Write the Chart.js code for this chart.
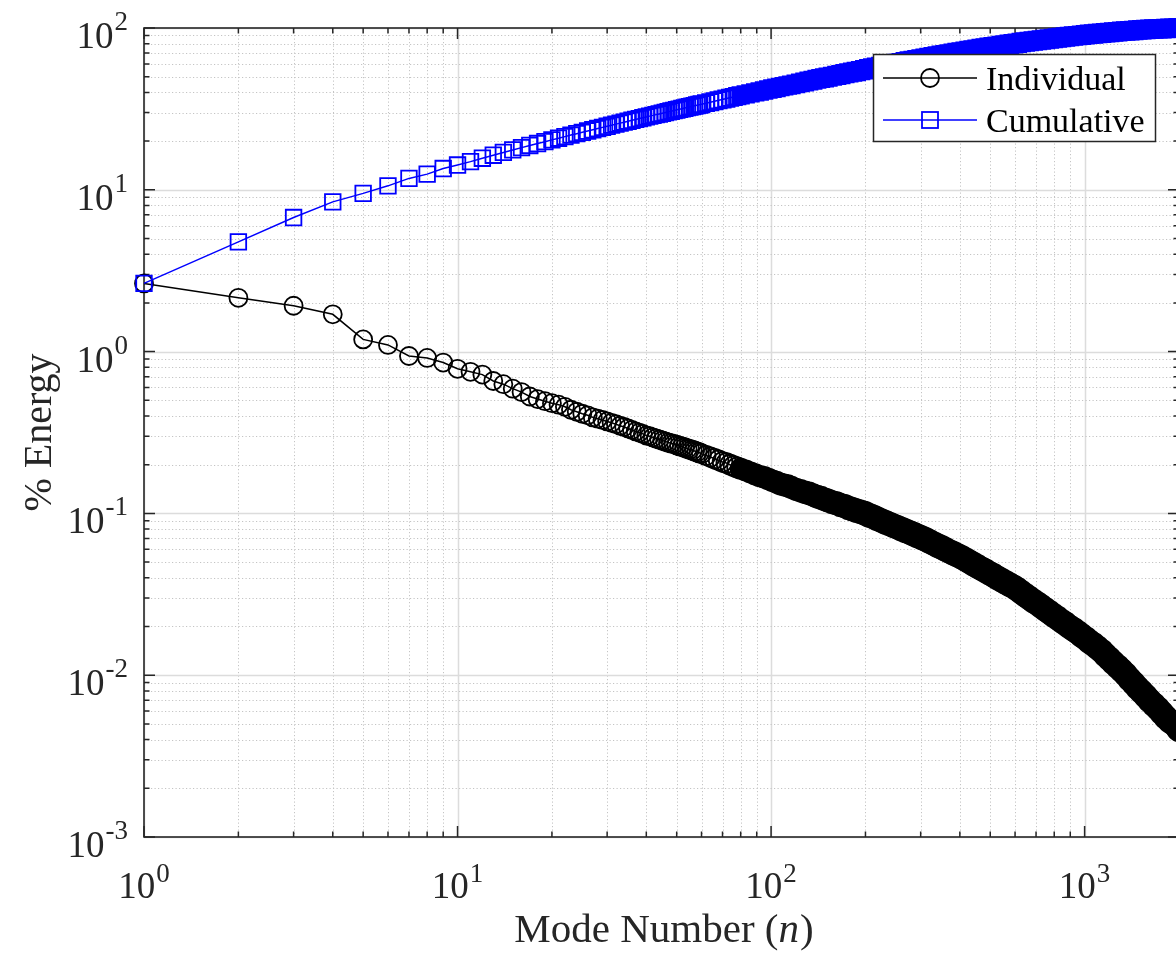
<!DOCTYPE html>
<html lang="en">
<head>
    <meta charset="UTF-8">
    <title>Mode energy</title>
    <script src="https://cdn.jsdelivr.net/npm/chart.js"></script>
    <style>
        html, body { margin: 0; padding: 0; background: #fff; overflow: hidden; }
    </style>
</head>
<body>
    <canvas id="graph" width="1190" height="955"></canvas>

    <script>
        // Mode numbers n (every mode up to 60, then the modes)
        const modeNumbers = [
            1, 2, 3, 4, 5, 6, 7, 8, 9, 10, 11, 12, 13, 14, 15, 16, 17, 18, 19, 20,
            21, 22, 23, 24, 25, 26, 27, 28, 29, 30, 31, 32, 33, 34, 35, 36, 37, 38, 39, 40,
            41, 42, 43, 44, 45, 46, 47, 48, 49, 50, 51, 52, 53, 54, 55, 56, 57, 58, 59, 60,
            62, 64, 66, 68, 70, 72, 74, 76, 78, 80,
            83, 86, 89, 92, 95, 98, 101, 104, 107, 110,
            113, 116, 120, 124, 128, 132, 136, 140, 144, 148,
            152, 157, 162, 167, 172, 177, 182, 187, 193, 199,
            205, 211, 217, 224, 231, 238, 245, 252, 260, 268,
            276, 284, 292, 301, 310, 319, 329, 339, 349, 359,
            370, 381, 392, 404, 416, 428, 441, 454, 468, 482,
            496, 511, 526, 542, 558, 575, 592, 610, 628, 647,
            666, 686, 707, 728, 750, 772, 795, 819, 844, 869,
            895, 922, 950, 978, 1007, 1037, 1068, 1100, 1133, 1167,
            1202, 1238, 1275, 1313, 1352, 1393, 1435, 1478, 1522, 1568,
            1615, 1663, 1713, 1764, 1817, 1871, 1927, 1985, 2000
        ];

        // % energy of each mode
        const individualEnergy = [
            2.64, 2.15, 1.92, 1.70, 1.19, 1.10, 0.939, 0.914, 0.856, 0.783,
            0.750, 0.721, 0.658, 0.629, 0.590, 0.562, 0.528, 0.509, 0.494, 0.480,
            0.470, 0.456, 0.437, 0.425, 0.413, 0.404, 0.392, 0.385, 0.378, 0.370,
            0.363, 0.356, 0.348, 0.342, 0.335, 0.328, 0.321, 0.316, 0.310, 0.303,
            0.300, 0.295, 0.290, 0.286, 0.282, 0.278, 0.274, 0.271, 0.268, 0.265,
            0.261, 0.258, 0.255, 0.251, 0.249, 0.246, 0.243, 0.240, 0.237, 0.234,
            0.228, 0.223, 0.218, 0.213, 0.208, 0.205, 0.200, 0.196, 0.192, 0.189,
            0.184, 0.179, 0.174, 0.170, 0.167, 0.163, 0.159, 0.156, 0.152, 0.150,
            0.148, 0.145, 0.141, 0.138, 0.135, 0.133, 0.130, 0.127, 0.125, 0.122,
            0.120, 0.117, 0.1155, 0.1126, 0.1107, 0.1079, 0.106, 0.1041, 0.1022, 0.1004,
            0.0975, 0.0956, 0.0930, 0.0906, 0.0883, 0.0862, 0.0841, 0.0823, 0.0801, 0.0782,
            0.0764, 0.0746, 0.0729, 0.0711, 0.0692, 0.0673, 0.0653, 0.0634, 0.0618, 0.0601,
            0.0583, 0.0568, 0.0553, 0.0537, 0.0520, 0.0504, 0.0487, 0.0472, 0.0456, 0.0442,
            0.0428, 0.0415, 0.0401, 0.0388, 0.0376, 0.0364, 0.0353, 0.0340, 0.0326, 0.0312,
            0.0300, 0.0288, 0.0277, 0.0266, 0.0255, 0.0245, 0.0235, 0.0226, 0.0216, 0.0208,
            0.0199, 0.0192, 0.0184, 0.0176, 0.0169, 0.0161, 0.0155, 0.0148, 0.0141, 0.0133,
            0.0126, 0.0119, 0.0113, 0.0107, 0.0101, 0.00945, 0.00889, 0.00834, 0.00788, 0.00741,
            0.00695, 0.00658, 0.00622, 0.00584, 0.00548, 0.0052, 0.0050, 0.0047, 0.0046
        ];

        // running total of % energy
        const cumulativeEnergy = [
            2.64, 4.77, 6.74, 8.42, 9.50, 10.58, 11.76, 12.50, 13.54, 14.23,
            14.93, 15.67, 16.36, 17.02, 17.64, 18.23, 18.79, 19.32, 19.84, 20.35,
            20.84, 21.32, 21.78, 22.23, 22.66, 23.09, 23.50, 23.91, 24.31, 24.70,
            25.08, 25.46, 25.83, 26.19, 26.54, 26.89, 27.23, 27.56, 27.89, 28.21,
            28.53, 28.84, 29.15, 29.45, 29.75, 30.04, 30.33, 30.62, 30.90, 31.18,
            31.46, 31.73, 32.00, 32.27, 32.53, 32.79, 33.05, 33.30, 33.55, 33.80,
            34.32, 34.80, 35.27, 35.73, 36.18, 36.62, 37.05, 37.47, 37.88, 38.28,
            38.87, 39.45, 40.01, 40.56, 41.09, 41.62, 42.18, 42.68, 43.17, 43.65,
            44.12, 44.58, 45.19, 45.78, 46.36, 47.03, 47.59, 48.14, 48.67, 49.20,
            49.71, 50.35, 50.96, 51.57, 52.16, 52.74, 53.32, 53.88, 54.54, 55.18,
            55.91, 56.53, 57.13, 57.82, 58.49, 59.14, 59.77, 60.40, 61.09, 61.77,
            62.43, 63.07, 63.71, 64.40, 65.07, 65.73, 66.44, 67.13, 67.80, 68.46,
            69.15, 69.83, 70.50, 71.20, 71.88, 72.54, 73.23, 73.90, 74.60, 75.27,
            75.93, 76.61, 77.27, 77.95, 78.60, 79.28, 79.94, 80.61, 81.25, 81.91,
            82.54, 83.17, 83.81, 84.43, 85.04, 85.64, 86.24, 86.83, 87.43, 88.01,
            88.58, 89.15, 89.72, 90.27, 90.81, 91.35, 91.88, 92.41, 92.93, 93.43,
            93.93, 94.41, 94.87, 95.33, 95.77, 96.21, 96.63, 97.04, 97.43, 97.81,
            98.18, 98.53, 98.75, 99.05, 99.35, 99.60, 99.80, 99.95, 100.0
        ];

        const seriesNames = ["Individual", "Cumulative"];

        // tick positions (grid) and the decade exponents that get a label
        const xTickValues = [1, 2, 3, 4, 5, 6, 7, 8, 9, 10, 20, 30, 40, 50, 60, 70, 80, 90,
            100, 200, 300, 400, 500, 600, 700, 800, 900, 1000, 2000];
        const yTickValues = [0.001, 0.002, 0.003, 0.004, 0.005, 0.006, 0.007, 0.008, 0.009,
            0.01, 0.02, 0.03, 0.04, 0.05, 0.06, 0.07, 0.08, 0.09,
            0.1, 0.2, 0.3, 0.4, 0.5, 0.6, 0.7, 0.8, 0.9,
            1, 2, 3, 4, 5, 6, 7, 8, 9, 10, 20, 30, 40, 50, 60, 70, 80, 90, 100];
        const xTickExponents = [0, 1, 2, 3];
        const yTickExponents = [-3, -2, -1, 0, 1, 2];

        const SERIF = '"Liberation Serif", "Times New Roman", serif';
        const AXIS_COLOR = "#262626";
        // past this mode the markers pile up into a solid band
        const DENSE_FROM = 80;

        function isDecade(v) {
            const l = Math.log10(v);
            return Math.abs(l - Math.round(l)) < 1e-9;
        }

        // draw "10" with a raised exponent, anchored by align ("center" or "right")
        function drawPower(ctx, exp, px, baseline, align, rise) {
            const base = "10", sup = String(exp);
            ctx.font = "37px " + SERIF;
            const wb = ctx.measureText(base).width;
            ctx.font = "27px " + SERIF;
            const ws = ctx.measureText(sup).width;
            const total = wb + ws + 1;
            const left = align === "right" ? px - total : px - total / 2;
            ctx.textAlign = "left";
            ctx.textBaseline = "alphabetic";
            ctx.font = "37px " + SERIF;
            ctx.fillText(base, left, baseline);
            ctx.font = "27px " + SERIF;
            ctx.fillText(sup, left + wb + 1, baseline - rise);
        }

        function gridStyle(ctx, v) {
            if (isDecade(v)) {
                ctx.setLineDash([]);
                ctx.strokeStyle = "#dcdcdc";
                ctx.lineWidth = 1.5;
            } else {
                ctx.setLineDash([1.2, 2.3]);
                ctx.strokeStyle = "#c4c4c4";
                ctx.lineWidth = 1;
            }
        }

        // grid, box and inward ticks, drawn under the data like MATLAB does
        const matlabAxes = {
            id: "matlabAxes",
            beforeDatasetsDraw(chart) {
                const { ctx, chartArea: a, scales: { x, y } } = chart;
                ctx.save();

                // grid
                xTickValues.forEach(v => {
                    const px = Math.round(x.getPixelForValue(v)) + 0.5;
                    gridStyle(ctx, v);
                    ctx.beginPath();
                    ctx.moveTo(px, a.top);
                    ctx.lineTo(px, a.bottom);
                    ctx.stroke();
                });
                yTickValues.forEach(v => {
                    const py = Math.round(y.getPixelForValue(v)) + 0.5;
                    gridStyle(ctx, v);
                    ctx.beginPath();
                    ctx.moveTo(a.left, py);
                    ctx.lineTo(a.right, py);
                    ctx.stroke();
                });

                // box
                ctx.setLineDash([]);
                ctx.strokeStyle = AXIS_COLOR;
                ctx.lineWidth = 1.6;
                ctx.strokeRect(a.left, a.top, a.right - a.left, a.bottom - a.top);

                // ticks pointing into the plot
                ctx.lineWidth = 1.5;
                xTickValues.forEach(v => {
                    const px = x.getPixelForValue(v);
                    const len = isDecade(v) ? 11 : 5.5;
                    ctx.beginPath();
                    ctx.moveTo(px, a.bottom);
                    ctx.lineTo(px, a.bottom - len);
                    ctx.moveTo(px, a.top);
                    ctx.lineTo(px, a.top + len);
                    ctx.stroke();
                });
                yTickValues.forEach(v => {
                    const py = y.getPixelForValue(v);
                    const len = isDecade(v) ? 11 : 5.5;
                    ctx.beginPath();
                    ctx.moveTo(a.left, py);
                    ctx.lineTo(a.left + len, py);
                    ctx.moveTo(a.right, py);
                    ctx.lineTo(a.right - len, py);
                    ctx.stroke();
                });

                // tick labels
                ctx.fillStyle = AXIS_COLOR;
                xTickExponents.forEach(e => {
                    drawPower(ctx, e, x.getPixelForValue(Math.pow(10, e)), a.bottom + 61, "center", 16);
                });
                yTickExponents.forEach(e => {
                    drawPower(ctx, e, a.left - 16, y.getPixelForValue(Math.pow(10, e)) + 20, "right", 18);
                });

                // axis titles
                ctx.fillStyle = AXIS_COLOR;
                ctx.textBaseline = "alphabetic";
                const p1 = "Mode Number (", p2 = "n", p3 = ")";
                ctx.font = "41px " + SERIF;
                const w1 = ctx.measureText(p1).width, w3 = ctx.measureText(p3).width;
                ctx.font = "italic 41px " + SERIF;
                const w2 = ctx.measureText(p2).width;
                const tx = (a.left + a.right) / 2 - (w1 + w2 + w3) / 2 + 2;
                const ty = 942;
                ctx.textAlign = "left";
                ctx.font = "41px " + SERIF;
                ctx.fillText(p1, tx, ty);
                ctx.font = "italic 41px " + SERIF;
                ctx.fillText(p2, tx + w1, ty);
                ctx.font = "41px " + SERIF;
                ctx.fillText(p3, tx + w1 + w2 + 1, ty);

                ctx.translate(51, (a.top + a.bottom) / 2);
                ctx.rotate(-Math.PI / 2);
                ctx.textAlign = "center";
                ctx.font = "40px " + SERIF;
                ctx.fillText("% Energy", 0, 0);
                ctx.restore();
            },
            // legend box on top of the data
            afterDatasetsDraw(chart) {
                const { ctx } = chart;
                const bx = 873.5, by = 54.5, bw = 282, bh = 87;
                const rows = [
                    { name: seriesNames[0], color: "#000000", y: 78, marker: "circle" },
                    { name: seriesNames[1], color: "#0000ff", y: 120, marker: "square" }
                ];
                ctx.save();
                ctx.fillStyle = "#ffffff";
                ctx.fillRect(bx, by, bw, bh);
                ctx.strokeStyle = AXIS_COLOR;
                ctx.lineWidth = 1.5;
                ctx.strokeRect(bx, by, bw, bh);
                rows.forEach(r => {
                    ctx.strokeStyle = r.color;
                    ctx.lineWidth = 1.5;
                    ctx.beginPath();
                    ctx.moveTo(883, r.y);
                    ctx.lineTo(977, r.y);
                    ctx.stroke();
                    ctx.lineWidth = 1.8;
                    ctx.beginPath();
                    if (r.marker === "circle") {
                        ctx.arc(930, r.y, 9, 0, Math.PI * 2);
                        ctx.stroke();
                    } else {
                        ctx.strokeRect(922, r.y - 8, 16, 16);
                    }
                    ctx.fillStyle = "#000000";
                    ctx.font = "34px " + SERIF;
                    ctx.textAlign = "left";
                    ctx.textBaseline = "alphabetic";
                    ctx.fillText(r.name, 986, r.y + 12);
                });
                ctx.restore();
            }
        };

        function points(values) {
            return modeNumbers.map((n, i) => ({ x: n, y: values[i] }));
        }

        function dense(c) {
            return c.raw && c.raw.x >= DENSE_FROM;
        }

        // marker size grows a little where the overlapping markers thicken the band
        function bandRadius(c, r0, r1) {
            if (!c.raw) return r0;
            const t = Math.log10(c.raw.x / 40) / Math.log10(5);
            return r0 + (r1 - r0) * Math.min(1, Math.max(0, t));
        }

        function fixedSize(size, dim) {
            return scale => { scale[dim] = size; };
        }

        function makeChart() {
            const ctx = document.getElementById("graph").getContext("2d");
            new Chart(ctx, {
                type: "line",
                data: {
                    datasets: [
                        {
                            label: seriesNames[0],
                            data: points(individualEnergy),
                            borderColor: "#000000",
                            borderWidth: 1.5,
                            pointStyle: "circle",
                            pointRadius: c => bandRadius(c, 9, 11.5),
                            pointBorderWidth: 1.8,
                            pointBorderColor: "#000000",
                            pointBackgroundColor: c => dense(c) ? "#000000" : "rgba(0,0,0,0)",
                            clip: false,
                            order: 1
                        },
                        {
                            label: seriesNames[1],
                            data: points(cumulativeEnergy),
                            borderColor: "#0000ff",
                            borderWidth: 1.5,
                            pointStyle: "rect",
                            pointRadius: c => bandRadius(c, 11, 12.5),
                            pointBorderWidth: 1.8,
                            pointBorderColor: "#0000ff",
                            pointBackgroundColor: c => dense(c) ? "#0000ff" : "rgba(0,0,0,0)",
                            clip: false,
                            order: 0
                        }
                    ]
                },
                options: {
                    responsive: false,
                    animation: false,
                    events: [],
                    layout: { autoPadding: false, padding: { left: 0, right: 11, top: 28, bottom: 0 } },
                    plugins: { legend: { display: false }, tooltip: { enabled: false } },
                    scales: {
                        x: {
                            type: "logarithmic",
                            min: 1,
                            max: 2000,
                            grid: { display: false },
                            border: { display: false },
                            ticks: { display: false },
                            afterBuildTicks: s => { s.ticks = xTickValues.map(v => ({ value: v })); },
                            afterFit: fixedSize(118, "height")
                        },
                        y: {
                            type: "logarithmic",
                            min: 0.001,
                            max: 100,
                            grid: { display: false },
                            border: { display: false },
                            ticks: { display: false },
                            afterBuildTicks: s => { s.ticks = yTickValues.map(v => ({ value: v })); },
                            afterFit: fixedSize(144, "width")
                        }
                    }
                },
                plugins: [matlabAxes]
            });
        }

        Promise.all([
            document.fonts.load('37px "Liberation Serif"'),
            document.fonts.load('italic 41px "Liberation Serif"')
        ]).then(makeChart, makeChart);
    </script>
</body>
</html>
